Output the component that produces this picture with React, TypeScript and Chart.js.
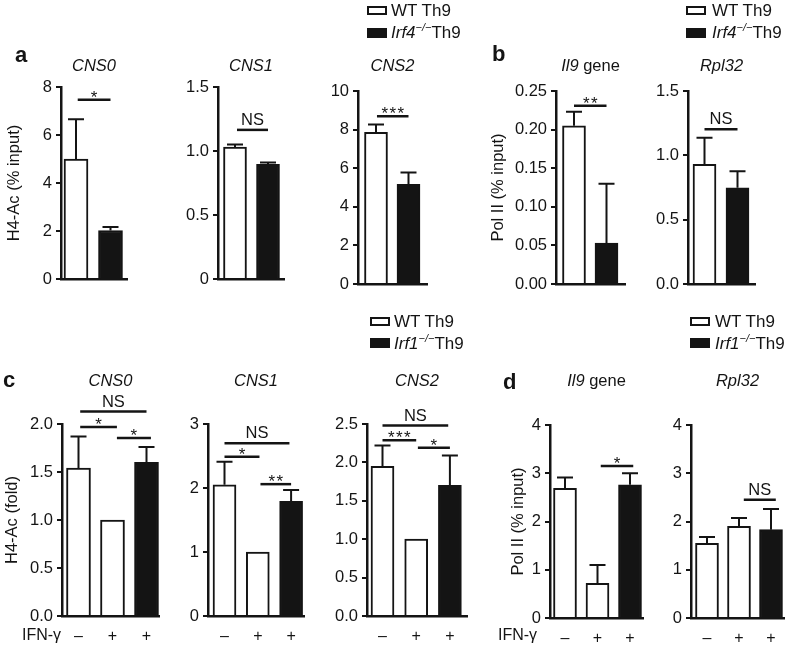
import React, { useEffect, useRef } from 'react';
import { Chart, registerables } from 'chart.js';

Chart.register(...registerables);

const FONT = '"Liberation Sans", Arial, Helvetica, sans-serif';
const INK = '#141414';

type Seg = { t: string; it?: boolean };
type Stat = { from: number; to: number; y: number; label: string };

// ---------------- data ----------------
const ifnGamma = ['–', '+', '+'];

// a: H4-Ac (% input), WT Th9 vs Irf4-/- Th9
const aCns0Ticks = ['0', '2', '4', '6', '8'];
const aCns0Values = [5.0, 2.02];
const aCns0Errors = [1.66, 0.15];
const aCns0Stats: Stat[] = [{ from: 0.05, to: 1, y: 7.47, label: '*' }];

const aCns1Ticks = ['0', '0.5', '1.0', '1.5'];
const aCns1Values = [1.03, 0.895];
const aCns1Errors = [0.02, 0.015];
const aCns1Stats: Stat[] = [{ from: 0.06, to: 1, y: 1.165, label: 'NS' }];

const aCns2Ticks = ['0', '2', '4', '6', '8', '10'];
const aCns2Values = [7.86, 5.16];
const aCns2Errors = [0.4, 0.62];
const aCns2Stats: Stat[] = [{ from: 0.03, to: 1, y: 8.69, label: '***' }];

// b: Pol II (% input)
const bIl9Ticks = ['0.00', '0.05', '0.10', '0.15', '0.20', '0.25'];
const bIl9Values = [0.205, 0.053];
const bIl9Errors = [0.018, 0.077];
const bIl9Stats: Stat[] = [{ from: 0, to: 1, y: 0.231, label: '**' }];

const bRpl32Ticks = ['0.0', '0.5', '1.0', '1.5'];
const bRpl32Values = [0.93, 0.748];
const bRpl32Errors = [0.206, 0.129];
const bRpl32Stats: Stat[] = [{ from: 0, to: 1, y: 1.203, label: 'NS' }];

// c: H4-Ac (fold), WT Th9 -/+ IFN-γ and Irf1-/- Th9 + IFN-γ
const cCns0Ticks = ['0.0', '0.5', '1.0', '1.5', '2.0'];
const cCns0Values = [1.54, 1.0, 1.6];
const cCns0Errors = [0.33, 0, 0.16];
const cCns0Stats: Stat[] = [
  { from: 0.05, to: 2, y: 2.13, label: 'NS' },
  { from: 0.05, to: 1.13, y: 1.97, label: '*' },
  { from: 1.13, to: 2.13, y: 1.855, label: '*' },
];

const cCns1Ticks = ['0', '1', '2', '3'];
const cCns1Values = [2.05, 1.0, 1.79];
const cCns1Errors = [0.36, 0, 0.18];
const cCns1Stats: Stat[] = [
  { from: 0, to: 1.95, y: 2.7, label: 'NS' },
  { from: 0, to: 1.05, y: 2.49, label: '*' },
  { from: 1.08, to: 2, y: 2.06, label: '**' },
];

const cCns2Ticks = ['0.0', '0.5', '1.0', '1.5', '2.0', '2.5'];
const cCns2Values = [1.95, 1.0, 1.7];
const cCns2Errors = [0.27, 0, 0.39];
const cCns2Stats: Stat[] = [
  { from: 0, to: 1.95, y: 2.48, label: 'NS' },
  { from: 0, to: 1, y: 2.29, label: '***' },
  { from: 1.05, to: 2, y: 2.19, label: '*' },
];

// d: Pol II (% input)
const dIl9Ticks = ['0', '1', '2', '3', '4'];
const dIl9Values = [2.69, 0.72, 2.76];
const dIl9Errors = [0.22, 0.38, 0.24];
const dIl9Stats: Stat[] = [{ from: 1.1, to: 2.1, y: 3.15, label: '*' }];

const dRpl32Ticks = ['0', '1', '2', '3', '4'];
const dRpl32Values = [1.55, 1.9, 1.83];
const dRpl32Errors = [0.13, 0.17, 0.43];
const dRpl32Stats: Stat[] = [{ from: 1.15, to: 2.15, y: 2.45, label: 'NS' }];

// ---------------- layout ----------------
const FILL2 = ['#ffffff', INK];
const FILL3 = ['#ffffff', '#ffffff', INK];
const TITLE_TOP = 66.5;
const TITLE_BOTTOM = 381;
const TICK_PX = 16.5;

type PanelSpec = {
  key: string;
  title: Seg[];
  ticks: string[];
  values: number[];
  errors: number[];
  stats: Stat[];
  fills: string[];
  xLabels?: string[];
  ax: number; rx: number; ty: number; zy: number; c0: number; sp: number; bw: number;
  titleY: number;
  yTitle?: string;
  yTitleX?: number;
};

const PANELS: PanelSpec[] = [
  { key: 'aCns0', title: [{ t: 'CNS0', it: true }], ticks: aCns0Ticks, values: aCns0Values, errors: aCns0Errors, stats: aCns0Stats, fills: FILL2,
    ax: 61, rx: 127, ty: 87, zy: 279, c0: 76, sp: 34.5, bw: 24, titleY: TITLE_TOP, yTitle: 'H4-Ac (% input)', yTitleX: 14 },
  { key: 'aCns1', title: [{ t: 'CNS1', it: true }], ticks: aCns1Ticks, values: aCns1Values, errors: aCns1Errors, stats: aCns1Stats, fills: FILL2,
    ax: 218, rx: 284, ty: 87, zy: 279, c0: 235, sp: 33, bw: 23, titleY: TITLE_TOP },
  { key: 'aCns2', title: [{ t: 'CNS2', it: true }], ticks: aCns2Ticks, values: aCns2Values, errors: aCns2Errors, stats: aCns2Stats, fills: FILL2,
    ax: 358, rx: 427, ty: 91, zy: 284, c0: 376, sp: 32.5, bw: 23, titleY: TITLE_TOP },
  { key: 'bIl9', title: [{ t: 'Il9', it: true }, { t: ' gene' }], ticks: bIl9Ticks, values: bIl9Values, errors: bIl9Errors, stats: bIl9Stats, fills: FILL2,
    ax: 556, rx: 625, ty: 91, zy: 284, c0: 574, sp: 32.5, bw: 23, titleY: TITLE_TOP, yTitle: 'Pol II (% input)', yTitleX: 498 },
  { key: 'bRpl32', title: [{ t: 'Rpl32', it: true }], ticks: bRpl32Ticks, values: bRpl32Values, errors: bRpl32Errors, stats: bRpl32Stats, fills: FILL2,
    ax: 688, rx: 755, ty: 91, zy: 284, c0: 704.5, sp: 33, bw: 23, titleY: TITLE_TOP },
  { key: 'cCns0', title: [{ t: 'CNS0', it: true }], ticks: cCns0Ticks, values: cCns0Values, errors: cCns0Errors, stats: cCns0Stats, fills: FILL3, xLabels: ifnGamma,
    ax: 62, rx: 159, ty: 424, zy: 616, c0: 78.5, sp: 34, bw: 24, titleY: TITLE_BOTTOM, yTitle: 'H4-Ac (fold)', yTitleX: 12 },
  { key: 'cCns1', title: [{ t: 'CNS1', it: true }], ticks: cCns1Ticks, values: cCns1Values, errors: cCns1Errors, stats: cCns1Stats, fills: FILL3, xLabels: ifnGamma,
    ax: 208, rx: 304, ty: 424, zy: 616, c0: 224.5, sp: 33.3, bw: 23, titleY: TITLE_BOTTOM },
  { key: 'cCns2', title: [{ t: 'CNS2', it: true }], ticks: cCns2Ticks, values: cCns2Values, errors: cCns2Errors, stats: cCns2Stats, fills: FILL3, xLabels: ifnGamma,
    ax: 367, rx: 467, ty: 424, zy: 616, c0: 382.5, sp: 33.7, bw: 23, titleY: TITLE_BOTTOM },
  { key: 'dIl9', title: [{ t: 'Il9', it: true }, { t: ' gene' }], ticks: dIl9Ticks, values: dIl9Values, errors: dIl9Errors, stats: dIl9Stats, fills: FILL3, xLabels: ifnGamma,
    ax: 550, rx: 643, ty: 425, zy: 618, c0: 565, sp: 32.5, bw: 23, titleY: TITLE_BOTTOM, yTitle: 'Pol II (% input)', yTitleX: 518 },
  { key: 'dRpl32', title: [{ t: 'Rpl32', it: true }], ticks: dRpl32Ticks, values: dRpl32Values, errors: dRpl32Errors, stats: dRpl32Stats, fills: FILL3, xLabels: ifnGamma,
    ax: 691, rx: 784, ty: 425, zy: 618, c0: 707, sp: 32, bw: 23, titleY: TITLE_BOTTOM },
];

function geometry(s: PanelSpec) {
  const left = Math.max(0, s.ax - 70);
  const top = s.ty - 62;
  const bottom = Math.min(645, s.zy + 28);
  const right = s.rx + 6;
  return {
    left, top, w: right - left, h: bottom - top,
    yw: s.ax - left, padTop: s.ty - top, xh: bottom - s.zy, padRight: right - s.rx,
  };
}

function Panel({ spec }: { spec: PanelSpec }) {
  const ref = useRef<HTMLCanvasElement>(null);
  const g = geometry(spec);

  useEffect(() => {
    const s = spec;
    const canvas = ref.current;
    if (!canvas) return;
    const yMax = parseFloat(s.ticks[s.ticks.length - 1]);

    const errorBars = {
      id: 'errorBars',
      afterDatasetsDraw(chart: any) {
        const { ctx } = chart;
        const ys = chart.scales.y;
        const meta = chart.getDatasetMeta(0);
        ctx.save();
        ctx.strokeStyle = INK;
        ctx.lineWidth = 2;
        meta.data.forEach((bar: any, i: number) => {
          const e = s.errors[i];
          if (!e) return;
          const top = ys.getPixelForValue(s.values[i] + e);
          ctx.beginPath();
          ctx.moveTo(bar.x, bar.y);
          ctx.lineTo(bar.x, top);
          ctx.moveTo(bar.x - 8, top);
          ctx.lineTo(bar.x + 8, top);
          ctx.stroke();
        });
        ctx.restore();
      },
    };

    const brackets = {
      id: 'brackets',
      afterDatasetsDraw(chart: any) {
        const { ctx } = chart;
        const xs = chart.scales.x;
        const ys = chart.scales.y;
        ctx.save();
        ctx.strokeStyle = INK;
        ctx.fillStyle = INK;
        ctx.lineWidth = 2.5;
        s.stats.forEach((st) => {
          const x1 = xs.getPixelForValue(st.from);
          const x2 = xs.getPixelForValue(st.to);
          const yy = ys.getPixelForValue(st.y);
          ctx.beginPath();
          ctx.moveTo(x1, yy);
          ctx.lineTo(x2, yy);
          ctx.stroke();
          const cx = (x1 + x2) / 2;
          ctx.textAlign = 'center';
          ctx.textBaseline = 'alphabetic';
          if (st.label === 'NS') {
            ctx.font = `${TICK_PX}px ${FONT}`;
            ctx.fillText(st.label, cx, yy - 5);
          } else {
            ctx.font = `17px ${FONT}`;
            const k = st.label.length;
            for (let j = 0; j < k; j++) {
              ctx.fillText('*', cx + (j - (k - 1) / 2) * 8, yy + 3);
            }
          }
        });
        ctx.restore();
      },
    };

    const panelTitle = {
      id: 'panelTitle',
      afterDraw(chart: any) {
        const { ctx, chartArea } = chart;
        const cx = (chartArea.left + chartArea.right) / 2;
        const cy = s.titleY - g.top;
        ctx.save();
        ctx.fillStyle = INK;
        ctx.textBaseline = 'middle';
        ctx.textAlign = 'left';
        const fontOf = (seg: Seg) => `${seg.it ? 'italic ' : ''}${TICK_PX}px ${FONT}`;
        let total = 0;
        s.title.forEach((seg) => { ctx.font = fontOf(seg); total += ctx.measureText(seg.t).width; });
        let x = cx - total / 2;
        s.title.forEach((seg) => {
          ctx.font = fontOf(seg);
          ctx.fillText(seg.t, x, cy);
          x += ctx.measureText(seg.t).width;
        });
        ctx.restore();
      },
    };

    const chart = new Chart(canvas, {
      type: 'bar',
      data: {
        datasets: [
          {
            data: s.values.map((v, i) => ({ x: i, y: v })),
            backgroundColor: s.fills,
            borderColor: INK,
            borderWidth: 2,
            barThickness: s.bw,
            borderSkipped: 'start',
          } as any,
        ],
      },
      options: {
        animation: false,
        responsive: false,
        maintainAspectRatio: false,
        devicePixelRatio: 1,
        events: [],
        layout: { padding: { left: 0, top: g.padTop, right: g.padRight, bottom: 0 } },
        plugins: { legend: { display: false }, tooltip: { enabled: false }, title: { display: false } },
        scales: {
          x: {
            type: 'linear',
            offset: false,
            min: (s.ax - s.c0) / s.sp,
            max: (s.rx - s.c0) / s.sp,
            grid: { display: false, offset: false },
            border: { display: true, color: INK, width: 2.5 },
            afterBuildTicks: (sc: any) => {
              sc.ticks = s.values.map((_, i) => ({ value: i }));
            },
            afterFit: (sc: any) => { sc.height = g.xh; },
            ticks: {
              display: !!s.xLabels,
              autoSkip: false,
              maxRotation: 0,
              minRotation: 0,
              padding: 3,
              color: INK,
              font: { family: FONT, size: 16 },
              callback: (_v: any, i: number) => (s.xLabels ? s.xLabels[i] : ''),
            },
          },
          y: {
            type: 'linear',
            min: 0,
            max: yMax,
            afterBuildTicks: (sc: any) => {
              sc.ticks = s.ticks.map((t) => ({ value: parseFloat(t) }));
            },
            afterFit: (sc: any) => { sc.width = g.yw; },
            grid: { display: true, drawOnChartArea: false, drawTicks: true, tickLength: 5, color: INK, lineWidth: 2 },
            border: { display: true, color: INK, width: 2.5 },
            ticks: {
              autoSkip: false,
              padding: 4,
              color: INK,
              font: { family: FONT, size: TICK_PX },
              callback: (_v: any, i: number) => s.ticks[i],
            },
            title: {
              display: !!s.yTitle,
              text: s.yTitle || '',
              color: INK,
              font: { family: FONT, size: TICK_PX },
              padding: { top: (s.yTitleX || 0) - g.left - TICK_PX * 0.6, bottom: 0 },
            },
          },
        },
      } as any,
      plugins: [errorBars, brackets, panelTitle],
    });
    return () => chart.destroy();
  }, []);

  return (
    <canvas
      ref={ref}
      width={g.w}
      height={g.h}
      style={{ position: 'absolute', left: g.left, top: g.top, width: g.w, height: g.h }}
    />
  );
}

const txt: React.CSSProperties = {
  position: 'absolute',
  fontFamily: FONT,
  color: INK,
  whiteSpace: 'nowrap',
  lineHeight: 1,
};

function Letter({ ch, left, cy }: { ch: string; left: number; cy: number }) {
  return <div style={{ ...txt, left, top: cy - 11, fontSize: 22, fontWeight: 'bold' }}>{ch}</div>;
}

function LegendBlock({ boxLeft, textLeft, cy, gene }: { boxLeft: number; textLeft: number; cy: number; gene: string }) {
  const cy2 = cy + 22;
  return (
    <>
      <div style={{ position: 'absolute', left: boxLeft, top: cy - 4.5, width: 20, height: 9, boxSizing: 'border-box', border: `2px solid ${INK}`, background: '#fff' }} />
      <div style={{ ...txt, left: textLeft, top: cy - 8.5, fontSize: 17 }}>WT Th9</div>
      <div style={{ position: 'absolute', left: boxLeft, top: cy2 - 5, width: 20, height: 10, background: INK }} />
      <div style={{ ...txt, left: textLeft, top: cy2 - 8.5, fontSize: 17 }}>
        <i>{gene}</i>
        <span style={{ fontSize: 11, position: 'relative', top: -7, fontStyle: 'italic' }}>−/−</span>
        Th9
      </div>
    </>
  );
}

export default function App() {
  return (
    <div style={{ position: 'fixed', left: 0, top: 0, width: 788, height: 645, background: '#fff', overflow: 'hidden' }}>
      {PANELS.map((p) => (
        <Panel key={p.key} spec={p} />
      ))}
      <Letter ch="a" left={15} cy={55} />
      <Letter ch="b" left={492} cy={54} />
      <Letter ch="c" left={3} cy={380} />
      <Letter ch="d" left={503} cy={382} />
      <LegendBlock boxLeft={367} textLeft={391} cy={10.5} gene="Irf4" />
      <LegendBlock boxLeft={686} textLeft={712} cy={10.5} gene="Irf4" />
      <LegendBlock boxLeft={370} textLeft={394} cy={321} gene="Irf1" />
      <LegendBlock boxLeft={690} textLeft={715} cy={321} gene="Irf1" />
      <div style={{ ...txt, left: 22, top: 627, fontSize: 16 }}>IFN-γ</div>
      <div style={{ ...txt, left: 498, top: 627, fontSize: 16 }}>IFN-γ</div>
    </div>
  );
}
